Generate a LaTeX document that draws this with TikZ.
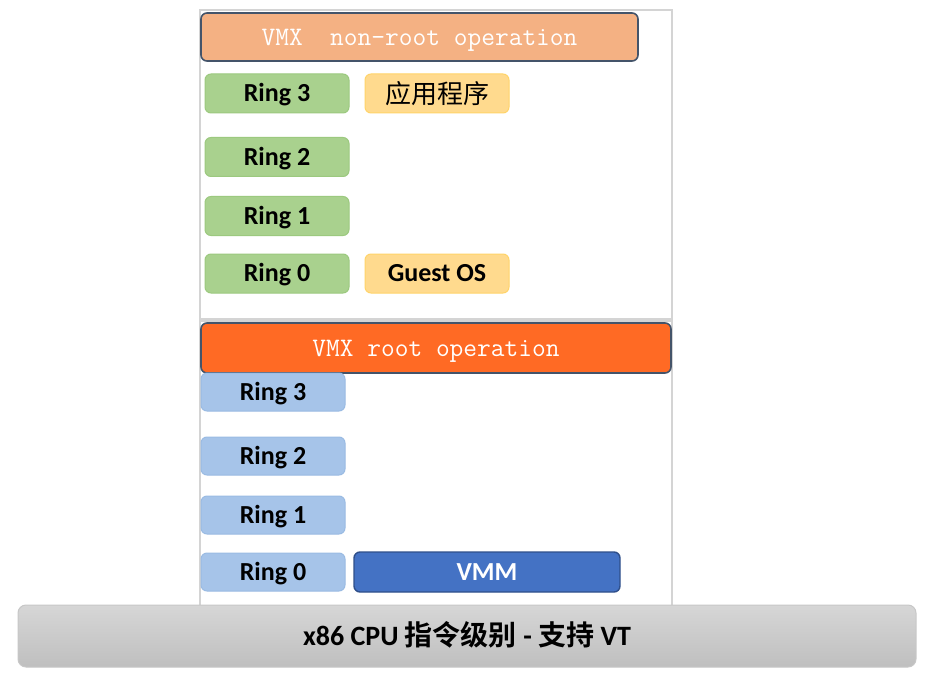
\documentclass[tikz,border=0pt]{standalone}
\usepackage{fontspec}
\setmainfont{Carlito}
\newfontfamily\cjk{Noto Sans CJK SC}[BoldFont={Noto Sans CJK SC Bold}]
\newlength\px \setlength\px{0.75pt}
\definecolor{nonrootc}{HTML}{F4B183}
\definecolor{rootc}{HTML}{FF6A24}
\definecolor{hdrborder}{HTML}{44546A}
\definecolor{greenc}{HTML}{A9D18E}
\definecolor{greenb}{HTML}{9CC97F}
\definecolor{yellowc}{HTML}{FFDA8E}
\definecolor{yellowb}{HTML}{FFD46A}
\definecolor{bluec}{HTML}{A6C4E9}
\definecolor{blueb}{HTML}{9ABBE3}
\definecolor{vmmc}{HTML}{4472C4}
\definecolor{vmmb}{HTML}{2F4F8A}
\definecolor{frame}{HTML}{D4D4D4}
\begin{document}
\begin{tikzpicture}[x=0.75pt,y=-0.75pt,
  box/.style={rounded corners=6\px, inner sep=0pt, line width=1\px, text height=12.6pt, text depth=0pt},
  hdr/.style={box, draw=hdrborder, line width=1.6\px, text=white, text height=12.2pt,
    font=\ttfamily\fontsize{20}{24}\selectfont},
  ringg/.style={box, fill=greenc, draw=greenb, minimum width=144\px, minimum height=39\px,
    font=\bfseries\fontsize{19.5}{23}\selectfont},
  ringb/.style={box, fill=bluec, draw=blueb, minimum width=144\px, minimum height=38\px,
    font=\bfseries\fontsize{19.5}{23}\selectfont},
  ybox/.style={box, fill=yellowc, draw=yellowb, minimum width=144\px, minimum height=39\px},
]
\useasboundingbox (0,0) rectangle (930,684);
\fill[white] (0,0) rectangle (930,684);
% frames
\draw[frame, line width=1.2\px] (200,10) rectangle (672,319);
\draw[frame, line width=1.2\px] (200,640) -- (200,321) -- (672,321) -- (672,640);
% upper part
\node[hdr, fill=nonrootc, minimum width=437\px, minimum height=48\px] (nonroot) at (419.5,37) {VMX\ \ non-root operation};
\node[ringg] (u3) at (277,93.5) {Ring 3};
\node[ringg] (u2) at (277,157) {Ring 2};
\node[ringg] (u1) at (277,216) {Ring 1};
\node[ringg] (u0) at (277,273.5) {Ring 0};
\node[ybox, text height=14.8pt, font=\cjk\fontsize{19.5}{23}\selectfont] (app) at (437,93.5) {应用程序};
\node[ybox, font=\bfseries\fontsize{19.5}{23}\selectfont] (guest) at (437,273.5) {Guest OS};
% lower part
\node[hdr, fill=rootc, minimum width=470\px, minimum height=50\px] (root) at (436,348) {VMX root operation};
\node[ringb] (l3) at (273,392) {Ring 3};
\node[ringb] (l2) at (273,456) {Ring 2};
\node[ringb] (l1) at (273,515) {Ring 1};
\node[ringb] (l0) at (273,572) {Ring 0};
\node[box, fill=vmmc, draw=vmmb, line width=1.4\px, minimum width=266\px, minimum height=40\px,
  text=white, font=\bfseries\fontsize{19.5}{23}\selectfont] (vmm) at (487,572) {VMM};
% cpu bar
\node[box, rounded corners=8\px, top color=black!16, bottom color=black!25, draw=black!22,
  minimum width=898\px, minimum height=62\px, text height=14.5pt,
  font=\bfseries\fontsize{21}{25}\selectfont] (cpu) at (467,636)
  {x86 CPU {\cjk\bfseries 指令级别} - {\cjk\bfseries 支持} VT};
\end{tikzpicture}
\end{document}
